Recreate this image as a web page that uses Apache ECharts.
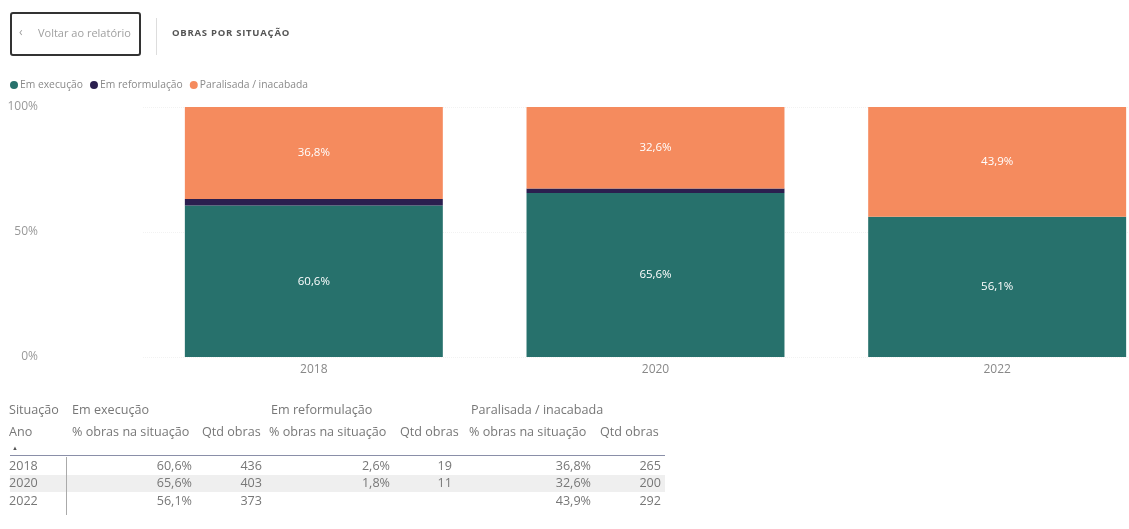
<!DOCTYPE html>
<html>
<head>
<meta charset="utf-8">
<script src="https://cdn.jsdelivr.net/npm/echarts@6/dist/echarts.min.js"></script>
<style>
html,body{margin:0;padding:0;background:#fff;}
body{width:1129px;height:529px;position:relative;overflow:hidden;font-family:"Open Sans","Noto Sans",sans-serif;}
#chart{position:absolute;left:0;top:0;width:1200px;height:529px;}
.abs{position:absolute;white-space:nowrap;}
#back{left:10px;top:12px;width:127px;height:40px;border:2px solid #333;border-radius:3px;}
#back span{position:absolute;top:11px;font-size:11px;color:#a0a0a0;}
#sep{left:156px;top:18px;width:1px;height:37px;background:#ddd;}
#title{left:172px;top:26px;font-size:9.5px;font-weight:bold;color:#555;letter-spacing:0.75px;}
.t{font-size:12.6px;color:#777;line-height:15px;}
</style>
</head>
<body>
<div id="chart"></div>
<div id="back" class="abs"><span style="left:7px;font-size:12px;top:9px;">&lsaquo;</span><span style="left:26px;">Voltar ao relatório</span></div>
<div id="sep" class="abs"></div>
<div id="title" class="abs">OBRAS POR SITUAÇÃO</div>
<div id="table"></div>
<script>
// ---- data ----
var categories = ['2018', '2020', '2022'];
var seriesNames = ['Em execução', 'Em reformulação', 'Paralisada / inacabada'];
var pctExecucao = [60.6, 65.6, 56.1];
var pctReformulacao = [2.6, 1.8, null];
var pctParalisada = [36.8, 32.6, 43.9];
var qtdExecucao = [436, 403, 373];
var qtdReformulacao = [19, 11, null];
var qtdParalisada = [265, 200, 292];
var yTicks = [0, 50, 100];

var colors = ['#27716c', '#2b1f4f', '#f58b5e'];

function fmtPct(v) { return v == null ? '' : v.toFixed(1).replace('.', ',') + '%'; }

var chart = echarts.init(document.getElementById('chart'));
function bar(name, data, color, showLabel) {
  return {
    name: name, type: 'bar', stack: 'total', data: data,
    barCategoryGap: '24.5%',
    itemStyle: { color: color },
    label: {
      show: showLabel, position: 'inside', color: '#fff', fontSize: 11.5,
      fontFamily: 'Open Sans',
      formatter: function (p) { return fmtPct(p.value); }
    }
  };
}
chart.setOption({
  animation: false,
  textStyle: { fontFamily: 'Open Sans' },
  legend: {
    left: 5, top: 75, icon: 'circle', itemWidth: 8, itemHeight: 8, itemGap: 7,
    textStyle: { fontSize: 10.3, color: '#8a8a8a', padding: [0, 0, 0, -3] },
    data: seriesNames
  },
  grid: { left: 143, top: 107, height: 250, width: 1025 },
  xAxis: {
    type: 'category', data: categories,
    axisLine: { show: false }, axisTick: { show: false },
    axisLabel: { color: '#888', fontSize: 12, margin: 7 }
  },
  yAxis: {
    type: 'value', min: yTicks[0], max: yTicks[yTicks.length - 1], interval: 50,
    axisLabel: { color: '#999', fontSize: 12, margin: 105, formatter: '{value}%' },
    splitLine: { show: true, lineStyle: { color: '#f2f2f2', type: 'dotted' } }
  },
  series: [
    bar(seriesNames[0], pctExecucao, colors[0], true),
    bar(seriesNames[1], pctReformulacao, colors[1], false),
    bar(seriesNames[2], pctParalisada, colors[2], true)
  ]
});

// ---- table ----
var tbl = document.getElementById('table');
function cell(text, x, y, align, extra) {
  var d = document.createElement('div');
  d.className = 'abs t';
  d.textContent = text;
  d.style.top = y + 'px';
  if (align === 'right') { d.style.right = (1129 - x) + 'px'; } else { d.style.left = x + 'px'; }
  if (extra) d.style.cssText += extra;
  tbl.appendChild(d);
}
var stripe = document.createElement('div');
stripe.className = 'abs';
stripe.style.cssText = 'left:10px;top:475px;width:655px;height:17px;background:#efefef;';
tbl.appendChild(stripe);
var hl = document.createElement('div');
hl.className = 'abs';
hl.style.cssText = 'left:10px;top:455px;width:655px;height:1px;background:#8a8fa8;';
tbl.appendChild(hl);
var vl = document.createElement('div');
vl.className = 'abs';
vl.style.cssText = 'left:66px;top:457px;width:1px;height:58px;background:#aaa;';
tbl.appendChild(vl);

cell('Situação', 9, 402);
cell(seriesNames[0], 72, 402);
cell(seriesNames[1], 271, 402);
cell(seriesNames[2], 471, 402);
cell('Ano', 9, 424);
var subX = [72, 202, 269, 400, 469, 600];
var subT = ['% obras na situação', 'Qtd obras', '% obras na situação', 'Qtd obras', '% obras na situação', 'Qtd obras'];
for (var i = 0; i < subX.length; i++) cell(subT[i], subX[i], 424);
cell('▲', 12, 441, 'left', 'font-size:6px;color:#555;');

var rowY = [458, 475, 493];
var rightX = [192, 262, 390, 452, 591, 661];
for (var r = 0; r < categories.length; r++) {
  cell(categories[r], 9, rowY[r]);
  var vals = [fmtPct(pctExecucao[r]), qtdExecucao[r], fmtPct(pctReformulacao[r]),
              qtdReformulacao[r], fmtPct(pctParalisada[r]), qtdParalisada[r]];
  for (var c = 0; c < vals.length; c++) {
    if (vals[c] === null || vals[c] === '') continue;
    cell(String(vals[c]), rightX[c], rowY[r], 'right');
  }
}
</script>
</body>
</html>
